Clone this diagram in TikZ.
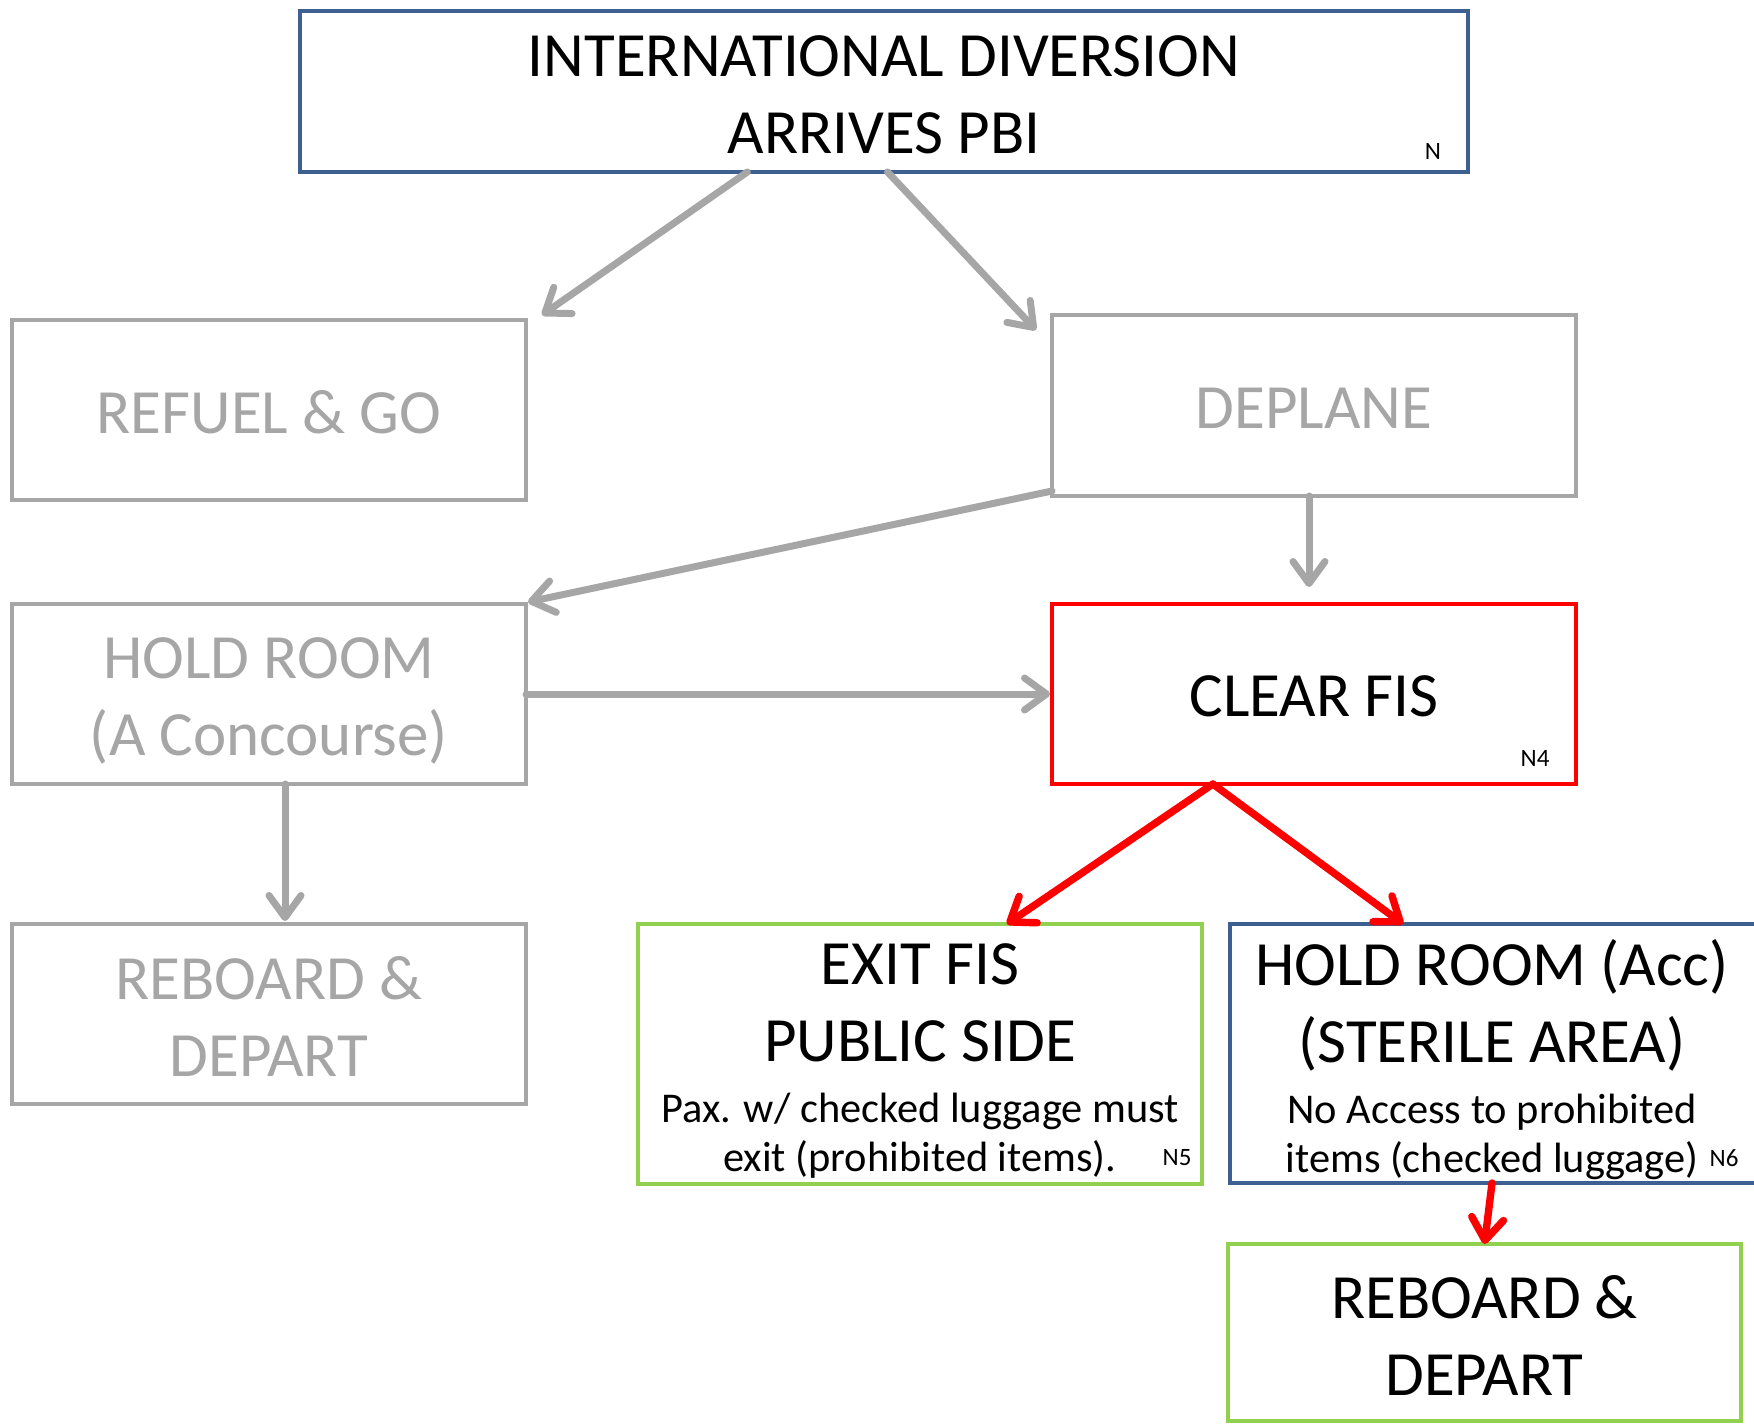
\documentclass[tikz,border=0pt]{standalone}
\usepackage{fontspec}
\setmainfont{Carlito}
\usetikzlibrary{arrows.meta,calc}
\definecolor{boxblue}{RGB}{62,96,145}
\definecolor{boxgrey}{RGB}{166,166,166}
\definecolor{boxgreen}{RGB}{146,208,80}
\definecolor{arrred}{RGB}{255,0,0}
\begin{document}
\begin{tikzpicture}[x=0.5pt,y=-0.5pt,
  box/.style={draw, line width=2.25pt, inner sep=0pt, outer sep=0pt, rectangle},
  bigtxt/.style={font=\fontsize{31.5}{38.5}\selectfont, align=center, inner sep=0pt},
  smalltxt/.style={font=\fontsize{21.2}{24.5}\selectfont, align=center, inner sep=0pt},
  tag/.style={font=\fontsize{12.5}{14}\selectfont, inner sep=0pt},
  barb/.style={-{Straight Barb[length=11pt,width=16pt,line cap=round,line join=round]}},
  greyarrow/.style={draw=boxgrey, line width=3.5pt, line cap=round, barb},
  redarrow/.style={draw=arrred, line width=3.7pt, line cap=round, barb}
]
\fill[white] (0,0) rectangle (1754,1423);
\useasboundingbox (0,0) rectangle (1754,1423);

% boxes
\node[box, draw=boxblue, minimum width=584pt, minimum height=80.5pt] (top) at (884,91.5) {};
\node[box, draw=boxgrey, minimum width=257pt, minimum height=90pt] (refuel) at (269,410) {};
\node[box, draw=boxgrey, minimum width=262pt, minimum height=90.5pt] (deplane) at (1314,405.5) {};
\node[box, draw=boxgrey, minimum width=257pt, minimum height=90pt] (hold) at (269,694) {};
\node[box, draw=arrred, minimum width=262pt, minimum height=90pt] (clear) at (1314,694) {};
\node[box, draw=boxgrey, minimum width=257pt, minimum height=90pt] (reboardL) at (269,1014) {};
\node[box, draw=boxgreen, minimum width=282pt, minimum height=130pt] (exit) at (920,1054) {};
\node[box, draw=boxblue, minimum width=264pt, minimum height=129.5pt] (acc) at (1494,1053.5) {};
\node[box, draw=boxgreen, minimum width=256.5pt, minimum height=88.5pt] (reboardR) at (1484.5,1332.5) {};

% texts
\node[bigtxt] (topT) at (884,95) {INTERNATIONAL DIVERSION\\ARRIVES PBI};
\node[bigtxt, text=boxgrey] (refuelT) at (269,412) {REFUEL \& GO};
\node[bigtxt, text=boxgrey] (deplaneT) at (1314,408) {DEPLANE};
\node[bigtxt, text=boxgrey] (holdT) at (269,701) {HOLD ROOM\\(A Concourse)};
\node[bigtxt] (clearT) at (1314,696) {CLEAR FIS};
\node[bigtxt, text=boxgrey] (reboardLT) at (269,1016.5) {REBOARD \&\\DEPART};
\node[bigtxt] (exitBig) at (920,1003) {EXIT FIS\\PUBLIC SIDE};
\node[smalltxt] (exitSmall) at (920,1136) {Pax. w/ checked luggage must\\exit (prohibited items).};
\node[bigtxt] (accBig) at (1492,1005.5) {HOLD ROOM (Acc)\\(STERILE AREA)};
\node[smalltxt] (accSmall) at (1492,1136.5) {No Access to prohibited\\items (checked luggage)};
\node[bigtxt] (reboardRT) at (1484.5,1335) {REBOARD \&\\DEPART};

% tags
\node[tag] (tagN) at (1433,151) {N};
\node[tag] (tagN4) at (1535,758) {N4};
\node[tag] (tagN5) at (1177,1158) {N5};
\node[tag] (tagN6) at (1724,1158) {N6};

% connectors
\draw[greyarrow] ($(top.south west)!0.383!(top.south east)$) -- ($(refuel.north east)+(16,-5)$);
\draw[greyarrow] ($(top.south west)!0.503!(top.south east)$) -- ($(deplane.north west)+(-16,15)$);
\draw[greyarrow] ($(deplane.south west)+(0,-5)$) -- ($(hold.north east)+(2,-2)$);
\draw[greyarrow] ($(deplane.south)+(-5,0)$) -- ($(clear.north)+(-5,-17)$);
\draw[greyarrow] (hold.east) -- ($(clear.west)+(-2,0)$);
\draw[greyarrow] ($(hold.south)+(16,0)$) -- ($(reboardL.north)+(16,-3)$);
\coordinate (cfs) at ($(clear.south west)!0.307!(clear.south east)$);
\draw[redarrow] (cfs) -- ($(exit.north west)!0.654!(exit.north east)$);
\draw[redarrow] (cfs) -- ($(acc.north west)!0.328!(acc.north east)$);
\draw[redarrow] ($(acc.south west)+(262,0)$) -- (reboardR.north);
\end{tikzpicture}
\end{document}
